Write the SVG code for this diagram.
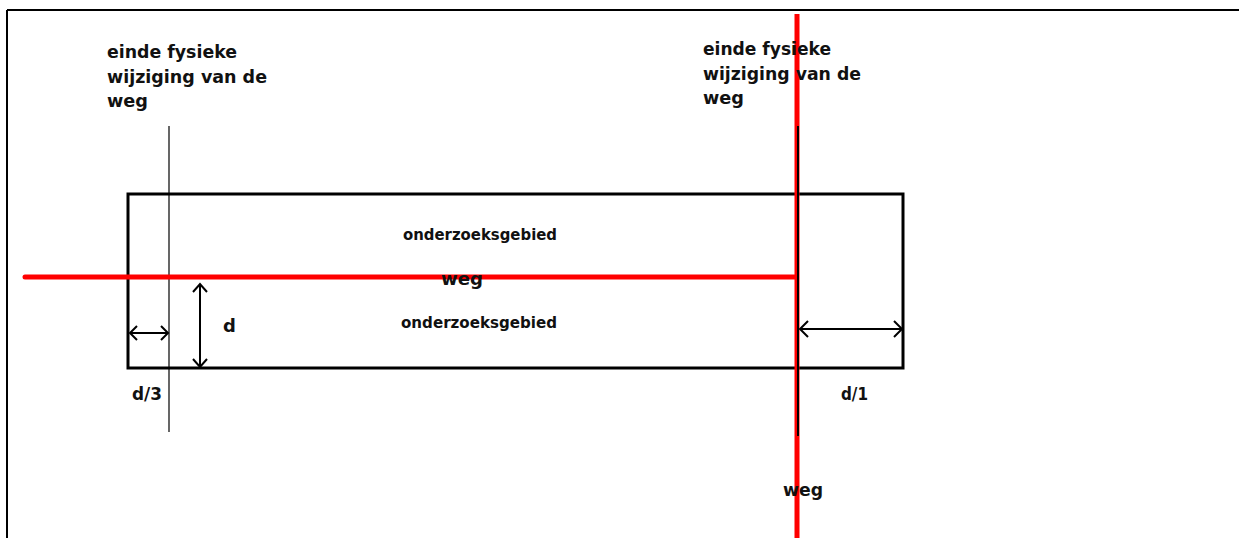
<svg xmlns="http://www.w3.org/2000/svg" width="1239" height="538" viewBox="0 0 1239 538">
<style>
text{font-family:"DejaVu Sans","Liberation Sans",Arial,sans-serif;font-size:17px;font-weight:bold;fill:#111}
.od{font-size:16px}
.red{stroke:#ff0000;stroke-width:5;fill:none}
.thin{stroke:#000;stroke-width:1.2;fill:none}
.dim{stroke:#000;stroke-width:2;fill:none}
.box{stroke:#000;stroke-width:3;fill:none}
</style>
<rect width="1239" height="538" fill="#fff"/>
<g id="frame">
<line x1="7" y1="10" x2="1239" y2="10" stroke="#000" stroke-width="2"/>
<line x1="7" y1="10" x2="7" y2="538" stroke="#000" stroke-width="2"/>
</g>
<g id="onderzoeksgebied">
<rect class="box" x="128" y="194" width="775" height="174"/>
<text class="od" x="403" y="240" textLength="154" lengthAdjust="spacingAndGlyphs">onderzoeksgebied</text>
<text class="od" x="401" y="328" textLength="156" lengthAdjust="spacingAndGlyphs">onderzoeksgebied</text>
</g>
<g id="connectors">
<line class="thin" x1="169" y1="126" x2="169" y2="432"/>
<line class="red" x1="25" y1="277" x2="796" y2="277" stroke-linecap="round"/>
<line class="red" x1="797" y1="14" x2="797" y2="538"/>
<line x1="798" y1="126" x2="798" y2="436" stroke="#000" stroke-width="2"/>
<line class="dim" x1="200" y1="284" x2="200" y2="367"/>
<polyline class="dim" points="193,292 200,284 207,292"/>
<polyline class="dim" points="193,359 200,367 207,359"/>
<line class="dim" x1="130" y1="333" x2="168" y2="333"/>
<polyline class="dim" points="137,326 130,333 137,340"/>
<polyline class="dim" points="161,326 168,333 161,340"/>
<line class="dim" x1="800" y1="329" x2="902" y2="329"/>
<polyline class="dim" points="808,321 800,329 808,337"/>
<polyline class="dim" points="894,321 902,329 894,337"/>
</g>
<g id="label-left">
<text x="107" y="58" textLength="130" lengthAdjust="spacingAndGlyphs">einde fysieke</text>
<text x="107" y="83" textLength="160" lengthAdjust="spacingAndGlyphs">wijziging van de</text>
<text x="107" y="107" textLength="41" lengthAdjust="spacingAndGlyphs">weg</text>
</g>
<g id="label-right">
<text x="703" y="55" textLength="128" lengthAdjust="spacingAndGlyphs">einde fysieke</text>
<text x="703" y="80" textLength="158" lengthAdjust="spacingAndGlyphs">wijziging van de</text>
<text x="703" y="104" textLength="41" lengthAdjust="spacingAndGlyphs">weg</text>
</g>
<g id="label-weg-h"><text x="441" y="285" textLength="42" lengthAdjust="spacingAndGlyphs">weg</text></g>
<g id="label-weg-v"><text x="783" y="496" textLength="40" lengthAdjust="spacingAndGlyphs">weg</text></g>
<g id="label-d"><text x="223" y="332" style="font-size:18px">d</text></g>
<g id="label-d3"><text x="132" y="400" textLength="30" lengthAdjust="spacingAndGlyphs">d/3</text></g>
<g id="label-d1"><text x="841" y="400" textLength="27" lengthAdjust="spacingAndGlyphs">d/1</text></g>
</svg>
